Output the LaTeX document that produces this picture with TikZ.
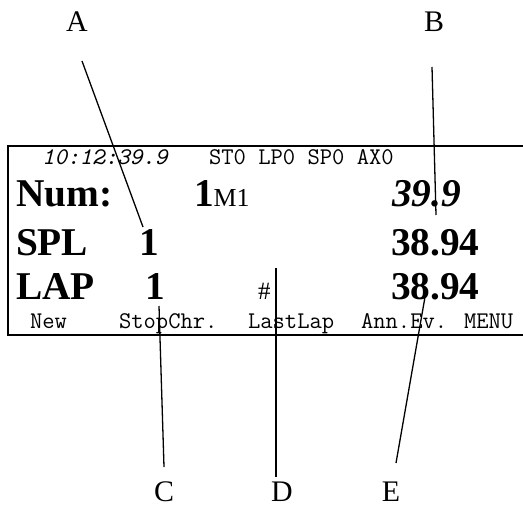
\documentclass[tikz,border=0pt]{standalone}
\usepackage{fontspec}
\setmainfont{Liberation Serif}
\begin{document}
\begin{tikzpicture}[x=1bp,y=-1bp,
  txt/.style={inner sep=0pt,outer sep=0pt,anchor=base west},
  small/.style={txt,font=\ttfamily\fontsize{24}{26}\selectfont},
  big/.style={txt,font=\fontsize{39.5}{42}\selectfont\bfseries},
  callout/.style={inner sep=0pt,anchor=base,font=\fontsize{30}{32}\selectfont},
  lead/.style={line width=1.3bp}]
\useasboundingbox (0,0) rectangle (523,508);

% display frame (right side runs off the page)
\begin{scope}
\clip (0,0) rectangle (523,508);
\draw[line width=2bp] (8,146) rectangle (540,335);
\end{scope}

% status line
\node[small,font=\ttfamily\itshape\fontsize{24}{26}\selectfont] (clock) at (42,165) {10:12:39.9};
\node[small] (flags) at (209,165) {ST0 LP0 SP0 AX0};

% main rows
\node[big] (num) at (16,207) {Num:};
\node[big] (numval) at (194,207) {1\mdseries\fontsize{26}{28}\selectfont M1};
\node[big,font=\fontsize{39.5}{42}\selectfont\bfseries\itshape] (t0) at (392,207) {39.9};

\node[big] (spl) at (16,255) {SPL};
\node[big] (splval) at (139,255) {1};
\node[big] (t1) at (391,255) {38.94};

\node[big] (lap) at (16,299) {LAP};
\node[big] (lapval) at (145,299) {1};
\node[txt,font=\fontsize{25}{27}\selectfont] (hash) at (258,299) {\#};
\node[big] (t2) at (391,299) {38.94};

% soft-key labels
\node[small] (k1) at (30,328) {New};
\node[small] (k2) at (119,328) {StopChr.};
\node[small] (k3) at (248,328) {LastLap};
\node[small] (k4) at (361,328) {Ann.Ev.};
\node[small] (k5) at (464,328) {MENU};

% callout letters
\node[callout] (A) at (77,32) {A};
\node[callout] (B) at (434,32) {B};
\node[callout] (C) at (164,501) {C};
\node[callout] (D) at (282,501) {D};
\node[callout] (E) at (391,501) {E};

% leader line end points
\coordinate (Atop) at (82,61);   \coordinate (Aend) at (143,227);
\coordinate (Btop) at (432,67);  \coordinate (Bend) at (436,215);
\coordinate (Cbot) at (164,467); \coordinate (Cend) at (159,306);
\coordinate (Dbot) at (276,477); \coordinate (Dend) at (276,268);
\coordinate (Dbar) at (276,306);
\coordinate (Ebot) at (396,463); \coordinate (Eend) at (425,297);

\draw[lead] (Atop) -- (Aend);
\draw[lead] (Btop) -- (Bend);
\draw[lead] (Cbot) -- (Cend);
\draw[lead] (Dbot) -- (Dend);
\draw[line width=2.2bp] (Dend) -- (Dbar);
\draw[lead] (Ebot) -- (Eend);
\end{tikzpicture}
\end{document}
